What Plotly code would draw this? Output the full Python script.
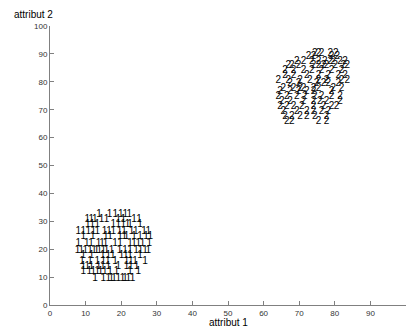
import plotly.graph_objects as go

# Cluster 1 (class "1")
x1 = [13.76, 16.7, 18.35, 19.9, 21.16, 22.3,
      10.5, 11.6, 12.6, 14.5, 15.9, 19.2, 20.6, 23.6, 25.0,
      10.6, 11.9, 13.3, 17.8, 19.2, 20.6, 21.8, 22.5, 25.3,
      7.96, 9.36, 10.77, 12.17, 13.3, 15.3, 16.6, 17.8, 19.5, 20.8, 22.9, 24.1, 26.4, 27.6,
      9.36, 12.0, 15.7, 16.85, 19.66, 20.9, 21.5, 23.6, 25.3, 27.0, 28.2,
      7.96, 10.3, 11.5, 13.6, 14.6, 15.6, 18.26, 19.66, 22.5, 23.6, 24.8, 26.0, 27.9,
      7.7, 8.8, 9.9, 11.24, 12.4, 13.1, 13.86, 15.0, 15.9, 17.3, 19.5, 21.07, 22.5, 24.2, 25.4, 26.7, 27.6,
      9.36, 11.7, 14.8, 16.4, 17.6, 20.1, 21.3, 22.5, 25.3,
      9.0, 11.24, 13.3, 15.0, 16.2, 18.26, 21.5, 22.7, 23.9, 26.7,
      9.36, 10.5, 11.6, 13.6, 14.8, 16.4, 19.2, 21.5, 22.7, 24.3,
      9.36, 11.05, 12.17, 13.3, 14.2, 15.4, 16.85, 18.7, 22.5, 24.8,
      12.64, 15.0, 16.4, 17.2, 18.0, 19.2, 20.4, 21.07, 22.0, 23.2]
y1 = [32.3] * 6 + [30.5] * 9 + [28.7] * 9 + [26.3] * 14 + [24.5] * 11 + [22.1] * 13 + \
     [19.7] * 17 + [17.9] * 9 + [15.5] * 10 + [13.7] * 10 + [11.9] * 10 + [9.6] * 10

# Cluster 2 (class "2")
x2 = [74.4, 75.4, 76.3, 78.7, 80.3,
      72.6, 74.0, 79.1, 80.7,
      69.3, 71.2, 73.5, 75.4, 77.2, 78.7, 79.6, 81.5, 82.9,
      66.9, 67.9, 69.8, 74.0, 75.4, 76.8, 77.7, 80.1, 82.4, 83.5,
      66.0, 68.4, 71.2, 73.5, 76.3, 79.1, 81.9,
      66.0, 68.4, 72.1, 75.4, 78.2, 81.0, 82.9,
      64.1, 66.9, 70.2, 73.0, 75.4, 77.7, 81.9, 83.5,
      67.4, 69.8, 74.9, 76.8, 78.2, 81.0,
      65.5, 68.4, 70.2, 71.2, 74.0, 75.4, 79.6, 81.9,
      64.6, 67.4, 69.8, 72.1, 74.0, 79.1,
      64.1, 66.5, 69.3, 71.6, 74.4, 76.3, 79.1, 81.5,
      65.1, 67.4, 71.2, 74.0, 75.8, 77.7, 81.5,
      64.6, 66.5, 68.4, 70.7, 74.0, 76.8, 79.1, 80.5,
      65.5, 69.3, 72.1, 74.0, 76.3, 78.2,
      66.0, 67.9, 70.2, 72.1, 74.4, 77.7,
      66.5, 67.9, 75.4, 77.7]
y2 = [90.2] * 5 + [89.0] * 4 + [87.2] * 9 + [85.7] * 10 + [84.2] * 7 + [82.4] * 7 + \
     [80.6] * 8 + [79.5] * 6 + [77.7] * 8 + [76.5] * 6 + [74.7] * 8 + [72.9] * 7 + \
     [71.1] * 8 + [69.3] * 6 + [67.5] * 6 + [65.7] * 4

labels1 = ["1"] * len(x1)
labels2 = ["2"] * len(x2)
ticks = list(range(0, 101, 10))

FONT = "Liberation Sans, Arial"

fig = go.Figure()
fig.add_trace(go.Scatter(x=x1, y=y1, mode="text", text=labels1,
                         textfont=dict(family=FONT, size=10, color="black"),
                         textposition="middle center", hoverinfo="skip"))
fig.add_trace(go.Scatter(x=x2, y=y2, mode="text", text=labels2,
                         textfont=dict(family=FONT, size=10, color="black"),
                         textposition="middle center", hoverinfo="skip"))

axis_common = dict(
    range=[0, 100], tickvals=ticks, ticktext=[str(t) for t in ticks],
    showgrid=False, zeroline=False, showline=True, linecolor="#808080", linewidth=1,
    ticks="inside", ticklen=4, tickcolor="#808080",
    tickfont=dict(family=FONT, size=8, color="#333333"),
    fixedrange=True,
)
fig.update_xaxes(**axis_common)
fig.update_yaxes(**axis_common)

plot_w = 407 - 50 - 1
plot_h = 331 - 26 - 26

fig.update_layout(
    width=407, height=331,
    margin=dict(l=50, r=1, t=26, b=26, autoexpand=False),
    paper_bgcolor="white", plot_bgcolor="white",
    showlegend=False,
    annotations=[
        dict(text="attribut 2", x=(12 - 50) / plot_w, y=(331 - 26 - 14) / plot_h,
             xref="paper", yref="paper", showarrow=False,
             xanchor="left", yanchor="middle",
             font=dict(family=FONT, size=10, color="black")),
        dict(text="attribut 1", x=0.5, y=-(315 - 305) / plot_h,
             xref="paper", yref="paper", showarrow=False,
             xanchor="center", yanchor="top",
             font=dict(family=FONT, size=10, color="black")),
    ],
)

fig.write_html("out.html")
